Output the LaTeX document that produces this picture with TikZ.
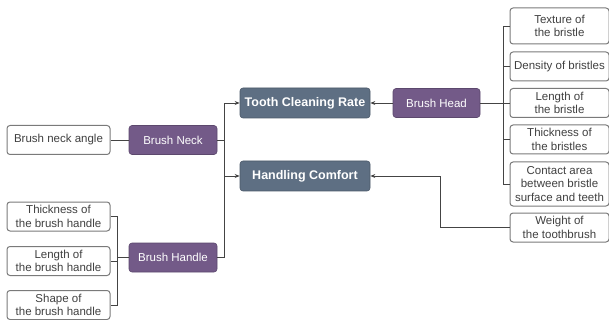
\documentclass[tikz,border=0pt]{standalone}
\usepackage{fontspec}
\setmainfont{Liberation Sans}
\usetikzlibrary{arrows.meta}
\definecolor{purp}{HTML}{735A88}
\definecolor{slate}{HTML}{5E6F83}
\definecolor{edge}{HTML}{444444}
\definecolor{bord}{HTML}{7A7A7A}
\begin{document}
\begin{tikzpicture}[x=1pt,y=-1pt,
  leaf/.style={draw=bord,line width=1pt,rounded corners=3pt,fill=white,align=center,
     font=\fontsize{11.5}{13.5}\selectfont,inner sep=0pt,text=black!75},
  mid/.style={draw=purp!80!black,line width=0.6pt,fill=purp,rounded corners=3pt,text=white,
     font=\fontsize{11.5}{13}\selectfont,inner sep=0pt,minimum width=88pt,minimum height=29pt},
  top/.style={draw=slate!80!black,line width=0.6pt,fill=slate,rounded corners=3pt,text=white,
     font=\bfseries\fontsize{12.5}{14}\selectfont,inner sep=0pt,minimum width=130pt,minimum height=30pt},
  conn/.style={draw=edge,line width=0.8pt},
  arr/.style={conn,-{Stealth[length=5pt,width=4pt]}}]
\useasboundingbox (0,0) rectangle (609,320);
% left
\node[leaf,minimum width=103pt,minimum height=29pt] (bna) at (58.5,140) {Brush neck angle};
\node[mid] (neck) at (173,140) {Brush Neck};
\node[leaf,minimum width=103pt,minimum height=29pt] (thh) at (58.5,216.5) {Thickness of\\the brush handle};
\node[leaf,minimum width=103pt,minimum height=29pt] (lbh) at (58.5,261) {Length of\\the brush handle};
\node[leaf,minimum width=103pt,minimum height=29pt] (sbh) at (58.5,305) {Shape of\\the brush handle};
\node[mid] (handle) at (173,257.5) {Brush Handle};
% centre
\node[top] (tcr) at (305,103) {Tooth Cleaning Rate};
\node[top] (hc) at (305,176) {Handling Comfort};
\node[mid,minimum width=87pt] (head) at (436.5,103) {Brush Head};
% right
\node[leaf,minimum width=99pt,minimum height=36pt] (tex) at (559.5,26) {Texture of\\the bristle};
\node[leaf,minimum width=99pt,minimum height=29pt] (den) at (559.5,66.5) {Density of bristles};
\node[leaf,minimum width=99pt,minimum height=29pt] (lob) at (559.5,103) {Length of\\the bristle};
\node[leaf,minimum width=99pt,minimum height=29pt] (tob) at (559.5,139.5) {Thickness of\\the bristles};
\node[leaf,minimum width=99pt,minimum height=44pt] (ca) at (559.5,184) {Contact area\\between bristle\\surface and teeth};
\node[leaf,minimum width=99pt,minimum height=29pt] (wt) at (559.5,227.5) {Weight of\\the toothbrush};
% coordinates
\coordinate (lb) at (117,0);
\coordinate (cb) at (224,0);
\coordinate (rb) at (503,0);
\coordinate (wb) at (440,0);
% connectors
\draw[conn] (bna) -- (neck);
\draw[conn] (thh.east) -| (lb |- lbh) -- (lbh.east);
\draw[conn] (sbh.east) -| (lb |- lbh);
\draw[conn] (lb |- handle) -- (handle.west);
\draw[conn] (neck.east) -- (cb |- neck);
\draw[conn] (handle.east) -| (cb |- tcr);
\draw[arr] (cb |- tcr) -- (tcr.west);
\draw[arr] (cb |- hc) -- (hc.west);
\draw[arr] (head.west) -- (tcr.east);
\draw[conn] (head.east) -- (rb |- head);
\draw[conn] (tex.west) -| (rb |- ca) -- (ca.west);
\draw[conn] (den.west) -- (rb |- den);
\draw[conn] (lob.west) -- (rb |- lob);
\draw[conn] (tob.west) -- (rb |- tob);
\draw[arr] (wt.west) -| (wb |- hc) -- (hc.east);
\end{tikzpicture}
\end{document}
